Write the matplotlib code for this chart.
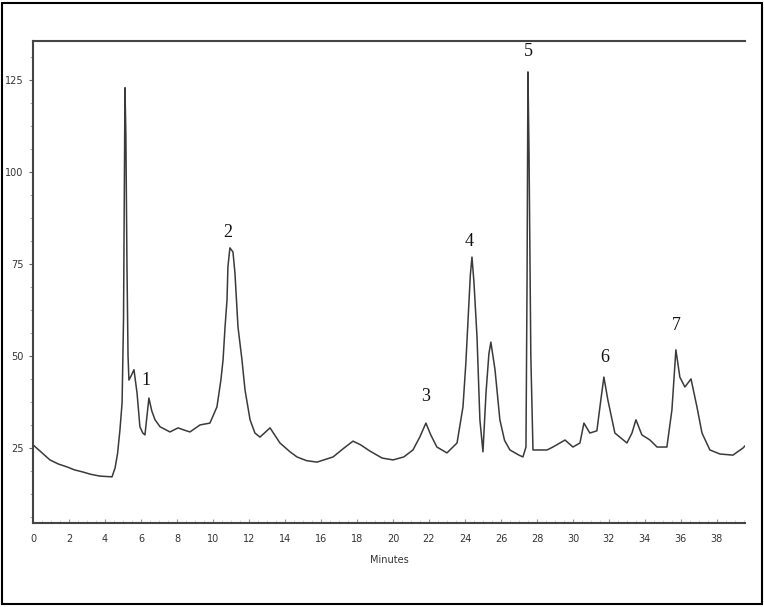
import matplotlib
matplotlib.use("Agg")
import matplotlib.pyplot as plt
from matplotlib.patches import Rectangle
from matplotlib.ticker import MultipleLocator

# Chromatogram trace (time in minutes, detector response)
time_min = [0.0, 0.5, 0.94, 1.4, 1.89, 2.3, 2.78, 3.2, 3.72, 4.1, 4.39, 4.56, 4.7, 4.83,
            4.95, 5.03, 5.08, 5.11, 5.16, 5.22, 5.28, 5.33, 5.45, 5.61, 5.78, 5.94, 6.1,
            6.22, 6.32, 6.44, 6.6, 6.78, 7.06, 7.61, 8.06, 8.4, 8.72, 9.28, 9.83, 10.22,
            10.44, 10.56, 10.67, 10.78, 10.83, 10.94, 11.11, 11.22, 11.39, 11.61, 11.78,
            12.06, 12.33, 12.61, 13.17, 13.72, 14.28,
            14.67, 15.2, 15.78, 16.67, 17.3, 17.78, 18.2, 18.72, 19.4, 20.0, 20.6, 21.11,
            21.5, 21.83, 22.1, 22.44, 23.0, 23.4, 23.56, 23.89, 24.05, 24.17, 24.3, 24.39,
            24.5, 24.67, 24.83,
            25.0, 25.17, 25.33, 25.44, 25.67, 25.94, 26.2, 26.5, 27.0, 27.22, 27.39, 27.45, 27.5,
            27.56, 27.66, 27.78, 28.06, 28.56, 28.89, 29.56, 30.0, 30.39, 30.61, 30.94,
            31.33, 31.55, 31.72, 31.94, 32.33, 33.0, 33.28, 33.5, 33.83, 34.28, 34.67,
            35.22, 35.5, 35.72, 35.94, 36.22, 36.56, 36.89, 37.17, 37.61, 38.17, 38.89,
            39.44, 39.56]
signal = [25.8, 23.6, 21.7, 20.6, 19.8, 19.0, 18.4, 17.8, 17.3, 17.2, 17.1, 19.5, 23.5, 29.8,
          37.2, 60.0, 100.0, 122.8, 110.0, 75.0, 50.0, 43.4, 44.5, 46.2, 39.9, 30.7, 29.0,
          28.5, 33.0, 38.5, 35.0, 32.6, 30.7, 29.3, 30.4, 29.8, 29.3, 31.2, 31.7, 36.1,
          43.4, 48.9, 57.8, 65.2, 74.1, 79.3, 78.2, 72.5, 57.8, 48.9, 40.7,
          32.6, 29.0, 27.9, 30.4, 26.3, 23.9,
          22.5, 21.5, 21.1, 22.5, 25.0, 26.8, 25.8, 24.1, 22.2, 21.7, 22.5, 24.4,
          28.0, 31.7, 28.5, 25.2, 23.6, 25.5, 26.3, 36.1, 48.0, 59.7, 72.0, 76.8,
          70.0, 55.1, 32.6,
          23.9, 39.9, 50.5, 53.7, 46.2, 32.6, 27.0, 24.4, 23.0, 22.5, 25.2, 70.0, 127.1,
          105.0, 50.0, 24.4, 24.4, 24.4, 25.2, 27.1, 25.2, 26.3, 31.7, 29.0,
          29.6, 38.0, 44.2, 38.0, 29.0, 26.3, 29.0, 32.6, 28.5, 27.1, 25.2,
          25.2, 35.3, 51.6, 44.2, 41.5, 43.7, 36.1, 29.0, 24.4, 23.3, 23.0,
          24.9, 25.5]

# Peak annotations
peak_labels = ["1", "2", "3", "4", "5", "6", "7"]
peak_x = [6.28, 10.83, 21.83, 24.22, 27.5, 31.78, 35.72]
peak_y = [43.2, 83.4, 38.8, 80.9, 132.6, 49.4, 58.1]

x_ticks = list(range(0, 40, 2))
y_ticks = [25, 50, 75, 100, 125]

fig = plt.figure(figsize=(7.64, 6.07), dpi=100)
ax = fig.add_axes([33/764, 1 - 523/607, (745 - 33)/764, (523 - 41)/607])

ax.plot(time_min, signal, color="#3a3a3a", lw=1.1)

for lab, px, py in zip(peak_labels, peak_x, peak_y):
    ax.text(px, py, lab, ha="center", va="center", fontsize=13,
            family=["Liberation Serif", "DejaVu Serif"], color="#111111")

ax.set_xlim(0, 39.56)
ax.set_ylim(4.56, 135.5)
ax.set_xticks(x_ticks)
ax.set_xticklabels([str(v) for v in x_ticks])
ax.set_yticks(y_ticks)
ax.set_yticklabels([str(v) for v in y_ticks])
ax.xaxis.set_minor_locator(MultipleLocator(0.5))
ax.yaxis.set_minor_locator(MultipleLocator(6.25))

tick_font = ["Liberation Sans Narrow", "DejaVu Sans"]
for lbl in ax.get_xticklabels() + ax.get_yticklabels():
    lbl.set_family(tick_font)
    lbl.set_fontsize(7)
    lbl.set_color("#333333")

ax.tick_params(axis="x", which="major", direction="in", length=3, color="#999999", pad=8)
ax.tick_params(axis="x", which="minor", direction="in", length=2, color="#cccccc")
ax.tick_params(axis="y", which="major", direction="out", length=3, color="#666666", pad=4)
ax.tick_params(axis="y", which="minor", direction="out", length=2, color="#999999")

ax.set_xlabel("Minutes", fontsize=7, family=tick_font, color="#333333", labelpad=8)

ax.spines["right"].set_visible(False)
for s in ["left", "bottom", "top"]:
    ax.spines[s].set_color("#444444")
    ax.spines[s].set_linewidth(1.5)

fig.patches.append(Rectangle((2/764, 3/607), 760/764, 601/607, transform=fig.transFigure,
                             fill=False, edgecolor="black", linewidth=1.5))

fig.savefig("out.png", dpi=100)
